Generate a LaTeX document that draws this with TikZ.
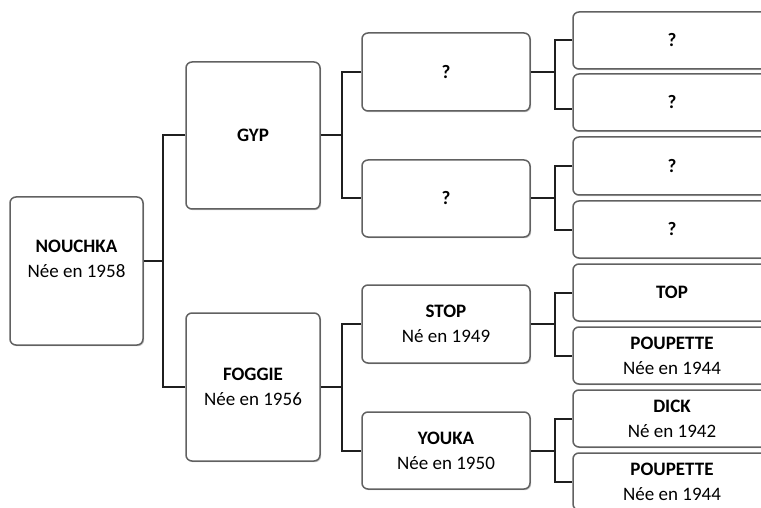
\documentclass[tikz,border=0pt]{standalone}
\usepackage{fontspec}
\setmainfont{Carlito}
\usetikzlibrary{shadows}
\begin{document}
\begin{tikzpicture}[x=1pt,y=-1pt,
  box/.style={draw=black!62, line width=1.5pt, rounded corners=6pt, fill=white,
    drop shadow={shadow xshift=1.2pt, shadow yshift=-1.2pt, fill=black!25, opacity=0.8},
    align=center, inner sep=0pt, font=\fontsize{19}{25}\selectfont},
  lab/.style={align=center, inner sep=0pt, font=\fontsize{19}{25}\selectfont},
  conn/.style={draw=black!88, line width=2pt}]
\useasboundingbox (0,0) rectangle (761,508);
\fill[white] (0,0) rectangle (761,508);
% level 0
\node[box, minimum width=133, minimum height=148] (nouchka) at (76.5,271) {};
\node[lab] (nouchkat) at (76.5,259) {\textbf{NOUCHKA}\\Née en 1958};
% level 1
\node[box, minimum width=134, minimum height=147] (gyp) at (253,135.5) {\textbf{GYP}};
\node[box, minimum width=134, minimum height=148] (foggie) at (253,387) {\textbf{FOGGIE}\\Née en 1956};
% level 2
\node[box, minimum width=168, minimum height=78] (qa) at (446,72) {\textbf{?}};
\node[box, minimum width=168, minimum height=77] (qb) at (446,198.5) {\textbf{?}};
\node[box, minimum width=168, minimum height=78] (stop) at (446,324) {\textbf{STOP}\\Né en 1949};
\node[box, minimum width=168, minimum height=77] (youka) at (446,450.5) {\textbf{YOUKA}\\Née en 1950};
% level 3
\node[box, minimum width=198, minimum height=57] (r1) at (672,40.5) {\textbf{?}};
\node[box, minimum width=198, minimum height=57] (r2) at (672,102.5) {\textbf{?}};
\node[box, minimum width=198, minimum height=58] (r3) at (672,166) {\textbf{?}};
\node[box, minimum width=198, minimum height=57] (r4) at (672,229.5) {\textbf{?}};
\node[box, minimum width=198, minimum height=57] (r5) at (672,292.5) {\textbf{TOP}};
\node[box, minimum width=198, minimum height=57] (r6) at (672,355.5) {\textbf{POUPETTE}\\Née en 1944};
\node[box, minimum width=198, minimum height=57] (r7) at (672,418.5) {\textbf{DICK}\\Né en 1942};
\node[box, minimum width=198, minimum height=57] (r8) at (672,481.5) {\textbf{POUPETTE}\\Née en 1944};
% junctions
\coordinate (j0) at (163,261);
\coordinate (j1) at (342,135.5);
\coordinate (j2) at (342,387);
\coordinate (j3) at (555,72);
\coordinate (j4) at (555,198.5);
\coordinate (j5) at (555,324);
\coordinate (j6) at (555,450.5);
% connectors
\draw[conn] (j0 -| nouchka.east) -- (j0);
\draw[conn] (gyp.west) -| (j0) |- (foggie.west);
\draw[conn] (gyp.east) -- (j1);
\draw[conn] (qa.west) -| (j1) |- (qb.west);
\draw[conn] (foggie.east) -- (j2);
\draw[conn] (stop.west) -| (j2) |- (youka.west);
\draw[conn] (qa.east) -- (j3);
\draw[conn] (r1.west) -| (j3) |- ([yshift=-6.5]r2.west);
\draw[conn] (qb.east) -- (j4);
\draw[conn] (r3.west) -| (j4) |- (r4.west);
\draw[conn] (stop.east) -- (j5);
\draw[conn] (r5.west) -| (j5) |- (r6.west);
\draw[conn] (youka.east) -- (j6);
\draw[conn] (r7.west) -| (j6) |- (r8.west);
\end{tikzpicture}
\end{document}
